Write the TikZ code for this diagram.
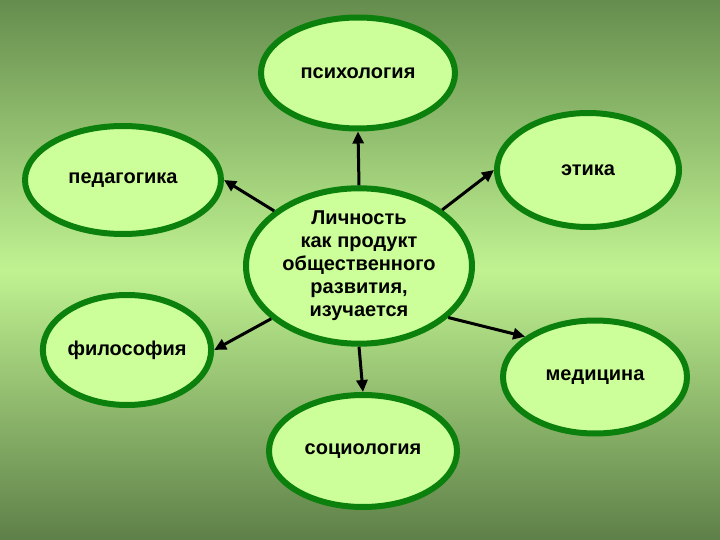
\documentclass[tikz,border=0pt]{standalone}
\usepackage{fontspec}
\setmainfont{Liberation Sans}
\usetikzlibrary{shapes.geometric,arrows.meta}
\definecolor{bgdark}{HTML}{658D4E}
\definecolor{bglight}{HTML}{C0F291}
\definecolor{bglow}{HTML}{5E8049}
\definecolor{ovalfill}{HTML}{CCFF99}
\definecolor{ovalline}{HTML}{0C800C}
\begin{document}
\begin{tikzpicture}[x=1pt,y=-1pt,
    field/.style={ellipse,draw=ovalline,fill=ovalfill,line width=6pt,inner sep=0pt,
      font=\fontsize{20}{23}\selectfont\bfseries,align=center},
    link/.style={line width=3pt,-{Triangle[length=12pt,width=11pt]}}]
    \useasboundingbox (0,0) rectangle (720,540);
    \shade[top color=bgdark,bottom color=bglow,middle color=bglight] (0,0) rectangle (720,540);
    \node[field,minimum width=226pt,minimum height=151pt] (core) at (359,266)
      {Личность\\как продукт\\общественного\\развития,\\изучается};
    \node[field,minimum width=194pt,minimum height=111pt,text depth=-4pt] (psych) at (358,73) {психология};
    \node[field,minimum width=196pt,minimum height=108pt] (pedag) at (123,180) {педагогика};
    \node[field,minimum width=182pt,minimum height=114pt] (ethic) at (588,170) {этика};
    \node[field,minimum width=160pt,minimum height=110pt] (philo) at (127,350) {философия};
    \node[field,minimum width=184pt,minimum height=113pt] (medic) at (595,377) {медицина};
    \node[field,minimum width=188pt,minimum height=112pt] (socio) at (363,451) {социология};
    \draw[link] (core.north) -- (psych.south);
    \draw[link] (core.147) -- (pedag.east);
    \draw[link] (core.34) -- (ethic.west);
    \draw[link] (core.211) -- (philo.east);
    \draw[link] (core.-30) -- (medic.150);
    \draw[link] (core.south) -- (socio.north);
  \end{tikzpicture}
\end{document}
